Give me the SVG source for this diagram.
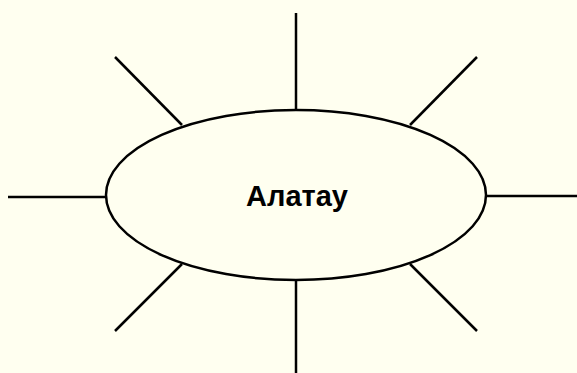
<svg xmlns="http://www.w3.org/2000/svg" width="577" height="373" viewBox="0 0 577 373">
<style>
.ln{stroke:#000;stroke-width:2.5;fill:none}
.nd{stroke:#000;stroke-width:2.5;fill:none}
.lb{font-family:"Liberation Sans",Arial,sans-serif;font-weight:bold;font-size:29px;fill:#000}
</style>
<rect width="577" height="373" fill="#fffff0"/>
<g id="connectors">
<line class="ln" x1="296" y1="13" x2="296" y2="110"/>
<line class="ln" x1="296" y1="280" x2="296" y2="373"/>
<line class="ln" x1="8" y1="197" x2="106" y2="197"/>
<line class="ln" x1="486" y1="196" x2="577" y2="196"/>
<line class="ln" x1="115" y1="57" x2="182" y2="125"/>
<line class="ln" x1="477" y1="57" x2="410" y2="125"/>
<line class="ln" x1="182" y1="264" x2="115" y2="331"/>
<line class="ln" x1="410" y1="264" x2="477" y2="331"/>
</g>
<g id="alatau">
<ellipse class="nd" cx="296" cy="195" rx="190" ry="85"/>
<text class="lb" x="297" y="206" text-anchor="middle">Алатау</text>
</g>
</svg>
